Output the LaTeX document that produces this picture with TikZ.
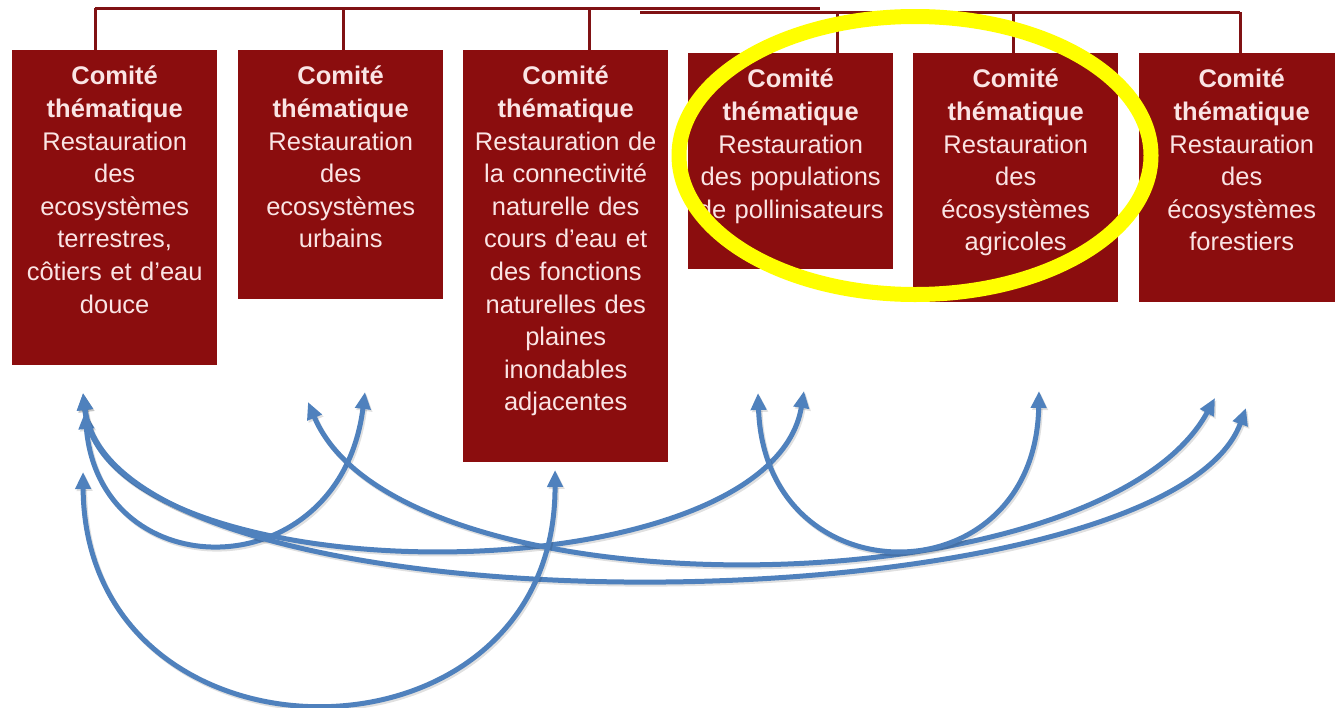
\documentclass[tikz,border=0pt]{standalone}
\usepackage{fontspec}
\setmainfont{Liberation Sans}
\usetikzlibrary{arrows.meta,calc}
\definecolor{boxred}{RGB}{139,13,14}
\definecolor{linered}{RGB}{128,18,20}
\definecolor{txtpink}{RGB}{250,228,228}
\definecolor{arrblue}{RGB}{79,129,189}
\definecolor{hlyellow}{RGB}{255,255,0}
\tikzset{
  box/.style={fill=boxred, inner sep=0pt, minimum width=205pt, anchor=north west},
  txt/.style={text=txtpink, inner sep=0pt, anchor=north, text width=205pt, align=center,
              font=\fontsize{25.5}{32.6}\selectfont},
  bus/.style={draw=linered, line width=3pt},
  link/.style={draw=arrblue, line width=5pt,
               {Triangle[length=17pt,width=15pt]}-{Triangle[length=17pt,width=15pt]},
               preaction={draw=black, draw opacity=0.12, fill opacity=0.12, line width=5pt,
                          transform canvas={xshift=1.5pt,yshift=-2pt}}},
  ring/.style={draw=hlyellow, line width=15pt}
}
\begin{document}
\begin{tikzpicture}[x=1pt,y=-1pt]
\useasboundingbox (0,0) rectangle (1335,707);
\fill[white] (0,0) rectangle (1335,707);

% boxes
\node[box, minimum height=315pt] (b1) at (12,50) {};
\node[box, minimum height=249pt] (b2) at (238,50) {};
\node[box, minimum height=412pt] (b3) at (463,50) {};
\node[box, minimum height=216pt] (b4) at (688,53) {};
\node[box, minimum height=249pt] (b5) at (913,53) {};
\node[box, minimum height=249pt] (b6) at (1139,53) {};

% texts
\node[txt] (t1) at ([yshift=-16pt]b1.north) {\textbf{Comité}\\\textbf{thématique}\\Restauration\\des\\ecosystèmes\\terrestres,\\côtiers et d’eau\\douce};
\node[txt] (t2) at ([yshift=-16pt]b2.north) {\textbf{Comité}\\\textbf{thématique}\\Restauration\\des\\ecosystèmes\\urbains};
\node[txt] (t3) at ([yshift=-16pt]b3.north) {\textbf{Comité}\\\textbf{thématique}\\Restauration de\\la connectivité\\naturelle des\\cours d’eau et\\des fonctions\\naturelles des\\plaines\\inondables\\adjacentes};
\node[txt] (t4) at ([yshift=-16pt]b4.north) {\textbf{Comité}\\\textbf{thématique}\\Restauration\\des populations\\de pollinisateurs};
\node[txt] (t5) at ([yshift=-16pt]b5.north) {\textbf{Comité}\\\textbf{thématique}\\Restauration\\des\\écosystèmes\\agricoles};
\node[txt] (t6) at ([yshift=-16pt]b6.north) {\textbf{Comité}\\\textbf{thématique}\\Restauration\\des\\écosystèmes\\forestiers};

% top bus
\coordinate (v1) at (95,8);
\coordinate (v2) at (343,8);
\coordinate (v3) at (589,8);
\coordinate (ve) at (820,8);
\coordinate (w0) at (640,12);
\coordinate (v4) at (837,12);
\coordinate (v5) at (1013,12);
\coordinate (v6) at (1240,12);
\draw[bus] (v1) -- (ve);
\draw[bus] (w0) -- (v6);
\draw[bus] (v1) -- (v1 |- b1.north);
\draw[bus] (v2) -- (v2 |- b2.north);
\draw[bus] (v3) -- (v3 |- b3.north);
\draw[bus] (v4) -- (v4 |- b4.north);
\draw[bus] (v5) -- (v5 |- b5.north);
\draw[bus] (v6) -- (v6 |- b6.north);

% highlight ring
\draw[ring] (915,155.5) ellipse [x radius=236pt, y radius=139pt];

% arrow end points
\coordinate (p0) at (83,393);
\coordinate (p1) at (85,412);
\coordinate (p2) at (365,392);
\coordinate (p3) at (804,391);
\coordinate (p4) at (1246,408);
\coordinate (p5) at (308,402);
\coordinate (p6) at (1215,398);
\coordinate (p7) at (758,393);
\coordinate (p8) at (1039,391);
\coordinate (p9) at (83,472);
\coordinate (p10) at (555,470);

% curved links
\draw[link] (p1) .. controls (100,590) and (340,590) .. (p2);
\draw[link] (p0) .. controls (105,600) and (770,600) .. (p3);
\draw[link] (p0) .. controls (115,645) and (1165,630) .. (p4);
\draw[link] (p5) .. controls (400,620) and (1100,610) .. (p6);
\draw[link] (p7) .. controls (765,600) and (1035,600) .. (p8);
\draw[link] (p9) .. controls (85,780) and (556,780) .. (p10);
\end{tikzpicture}
\end{document}
